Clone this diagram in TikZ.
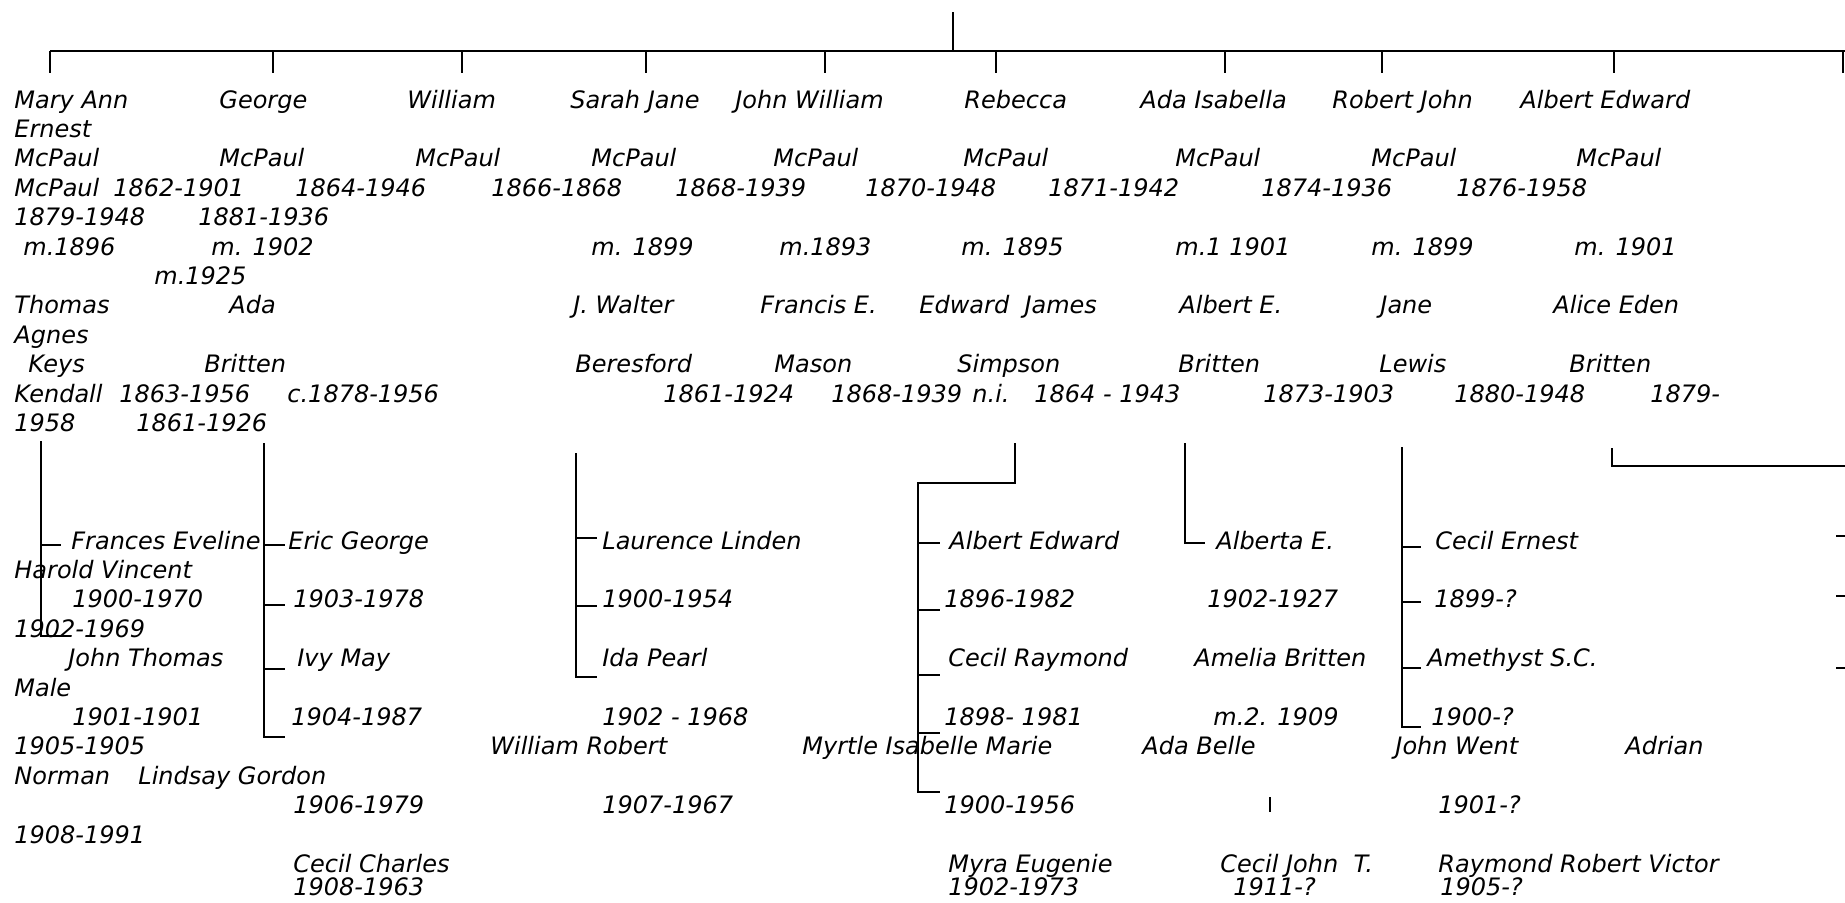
\documentclass[tikz,border=0pt]{standalone}
\usepackage{fontspec}
\setmainfont{DejaVu Sans}
\tikzset{
  txt/.style={anchor=base west, inner sep=0pt, font=\fontsize{12}{14}\selectfont\itshape},
  ln/.style={line width=1pt, line cap=butt}
}
\newcommand\tx[4]{\node[txt] (#1) at (#2,{108+29.4*#3}) {#4};}
\begin{document}
\begin{tikzpicture}[x=0.5pt,y=-0.5pt]
\useasboundingbox (0,0) rectangle (1845,902);
% ---------- top bar ----------
\coordinate (root) at (953,12);
\coordinate (rootb) at (953,51);
\coordinate (barL) at (50,51);
\coordinate (barR) at (1845,51);
\draw[ln] (root) -- (rootb);
\draw[ln] (barL) -- (barR);
\foreach \i/\x in {1/50,2/273,3/462,4/646,5/825,6/996,7/1225,8/1382,9/1614,10/1843}{
  \coordinate (k\i) at (\x,51);
  \coordinate (kb\i) at (\x,73);
  \draw[ln] (k\i) -- (kb\i);
}
% ---------- row 0 ----------
\tx{n1}{14}{0}{Mary Ann}
\tx{n2}{219}{0}{George}
\tx{n3}{407}{0}{William}
\tx{n4}{570}{0}{Sarah Jane}
\tx{n5}{735}{0}{John William}
\tx{n6}{964}{0}{Rebecca}
\tx{n7}{1140}{0}{Ada Isabella}
\tx{n8}{1332}{0}{Robert John}
\tx{n9}{1520}{0}{Albert Edward}
\tx{e1}{14}{1}{Ernest}
% ---------- row 2 ----------
\tx{s1}{14}{2}{McPaul}
\tx{s2}{219}{2}{McPaul}
\tx{s3}{415}{2}{McPaul}
\tx{s4}{591}{2}{McPaul}
\tx{s5}{773}{2}{McPaul}
\tx{s6}{963}{2}{McPaul}
\tx{s7}{1175}{2}{McPaul}
\tx{s8}{1371}{2}{McPaul}
\tx{s9}{1576}{2}{McPaul}
% ---------- row 3 ----------
\tx{s0}{14}{3}{McPaul}
\tx{d1}{113}{3}{1862-1901}
\tx{d2}{295}{3}{1864-1946}
\tx{d3}{491}{3}{1866-1868}
\tx{d4}{675}{3}{1868-1939}
\tx{d5}{865}{3}{1870-1948}
\tx{d6}{1048}{3}{1871-1942}
\tx{d7}{1261}{3}{1874-1936}
\tx{d8}{1456}{3}{1876-1958}
% ---------- row 4 ----------
\tx{d0}{14}{4}{1879-1948}
\tx{dd}{198}{4}{1881-1936}
% ---------- row 5 ----------
\tx{m1}{23}{5}{m.1896}
\tx{m2}{211}{5}{m. 1902}
\tx{m4}{591}{5}{m. 1899}
\tx{m5}{779}{5}{m.1893}
\tx{m6}{961}{5}{m. 1895}
\tx{m7}{1175}{5}{m.1 1901}
\tx{m8}{1371}{5}{m. 1899}
\tx{m9}{1574}{5}{m. 1901}
\tx{m0}{154}{6}{m.1925}
% ---------- row 7 ----------
\tx{p1}{14}{7}{Thomas}
\tx{p2}{229}{7}{Ada}
\tx{p4}{573}{7}{J. Walter}
\tx{p5}{760}{7}{Francis E.}
\tx{p6}{919}{7}{Edward\ \ James}
\tx{p7}{1179}{7}{Albert E.}
\tx{p8}{1380}{7}{Jane}
\tx{p9}{1553}{7}{Alice Eden}
\tx{p0}{14}{8}{Agnes}
% ---------- row 9 ----------
\tx{q1}{28}{9}{Keys}
\tx{q2}{204}{9}{Britten}
\tx{q4}{575}{9}{Beresford}
\tx{q5}{774}{9}{Mason}
\tx{q6}{957}{9}{Simpson}
\tx{q7}{1178}{9}{Britten}
\tx{q8}{1379}{9}{Lewis}
\tx{q9}{1569}{9}{Britten}
% ---------- row 10 ----------
\tx{r1}{14}{10}{Kendall}
\tx{r2}{119}{10}{1863-1956}
\tx{r3}{287}{10}{c.1878-1956}
\tx{r4}{663}{10}{1861-1924}
\tx{r5}{831}{10}{1868-1939}
\tx{r6}{972}{10}{n.i.}
\tx{r7}{1034}{10}{1864 - 1943}
\tx{r8}{1263}{10}{1873-1903}
\tx{r9}{1454}{10}{1880-1948}
\tx{r10}{1650}{10}{1879-}
\tx{u1}{14}{11}{1958}
\tx{u2}{136}{11}{1861-1926}
% ---------- children ----------
\tx{c1}{71}{15}{Frances Eveline}
\tx{c2}{288}{15}{Eric George}
\tx{c3}{602}{15}{Laurence Linden}
\tx{c4}{949}{15}{Albert Edward}
\tx{c5}{1216}{15}{Alberta E.}
\tx{c6}{1435}{15}{Cecil Ernest}
\tx{c7}{14}{16}{Harold Vincent}
\tx{c8}{72}{17}{1900-1970}
\tx{c9}{293}{17}{1903-1978}
\tx{c10}{602}{17}{1900-1954}
\tx{c11}{944}{17}{1896-1982}
\tx{c12}{1207}{17}{1902-1927}
\tx{c13}{1434}{17}{1899-?}
\tx{c14}{14}{18}{1902-1969}
\tx{c15}{68}{19}{John Thomas}
\tx{c16}{297}{19}{Ivy May}
\tx{c17}{602}{19}{Ida Pearl}
\tx{c18}{948}{19}{Cecil Raymond}
\tx{c19}{1194}{19}{Amelia Britten}
\tx{c20}{1427}{19}{Amethyst S.C.}
\tx{c21}{14}{20}{Male}
\tx{c22}{72}{21}{1901-1901}
\tx{c23}{291}{21}{1904-1987}
\tx{c24}{602}{21}{1902 - 1968}
\tx{c25}{944}{21}{1898- 1981}
\tx{c26}{1213}{21}{m.2. 1909}
\tx{c27}{1431}{21}{1900-?}
\tx{c28}{14}{22}{1905-1905}
\tx{c29}{490}{22}{William Robert}
\tx{c30}{802}{22}{Myrtle Isabelle Marie}
\tx{c31}{1142}{22}{Ada Belle}
\tx{c32}{1395}{22}{John Went}
\tx{c33}{1625}{22}{Adrian}
\tx{c34}{14}{23}{Norman}
\tx{c35}{138}{23}{Lindsay Gordon}
\tx{c36}{293}{24}{1906-1979}
\tx{c37}{602}{24}{1907-1967}
\tx{c38}{944}{24}{1900-1956}
\tx{c39}{1438}{24}{1901-?}
\tx{c40}{14}{25}{1908-1991}
\tx{c41}{293}{26}{Cecil Charles}
\tx{c42}{948}{26}{Myra Eugenie}
\tx{c43}{1220}{26}{Cecil John\ \ T.}
\tx{c44}{1438}{26}{Raymond Robert Victor}
\tx{c45}{293}{26.8}{1908-1963}
\tx{c46}{948}{26.8}{1902-1973}
\tx{c47}{1233}{26.8}{1911-?}
\tx{c48}{1440}{26.8}{1905-?}
% ---------- family connectors ----------
% Mary Ann
\coordinate (f1t) at (41,441); \coordinate (f1b) at (41,636);
\draw[ln] (f1t) -- (f1b) -- ++(26,0);
\draw[ln] (41,545) -- ++(20,0);
% George
\coordinate (f2t) at (264,443); \coordinate (f2b) at (264,737);
\draw[ln] (f2t) -- (f2b) -- ++(21,0);
\foreach \y in {545,605,669} \draw[ln] (264,\y) -- ++(21,0);
% Sarah Jane
\coordinate (f4t) at (576,453); \coordinate (f4b) at (576,677);
\draw[ln] (f4t) -- (f4b) -- ++(21,0);
\foreach \y in {538,606} \draw[ln] (576,\y) -- ++(21,0);
% Rebecca
\coordinate (f6t) at (1015,443); \coordinate (f6b) at (918,792);
\draw[ln] (f6t) -- (1015,483) -- (918,483) -- (f6b) -- ++(22,0);
\foreach \y in {543,610,675,733} \draw[ln] (918,\y) -- ++(22,0);
% Ada Isabella
\coordinate (f7t) at (1185,443);
\draw[ln] (f7t) -- (1185,543) -- ++(20,0);
\coordinate (f7s) at (1270,797);
\draw[line width=0.8pt] (f7s) -- ++(0,15);
% Robert John
\coordinate (f8t) at (1402,447); \coordinate (f8b) at (1402,727);
\draw[ln] (f8t) -- (f8b) -- ++(19,0);
\foreach \y in {547,602,668} \draw[ln] (1402,\y) -- ++(19,0);
% Albert Edward
\coordinate (f9t) at (1612,448); \coordinate (f9r) at (1845,466);
\draw[ln] (f9t) -- (1612,466) -- (f9r);
\foreach \y in {536,596,668} \draw[ln] (1836,\y) -- ++(9,0);
\end{tikzpicture}
\end{document}
